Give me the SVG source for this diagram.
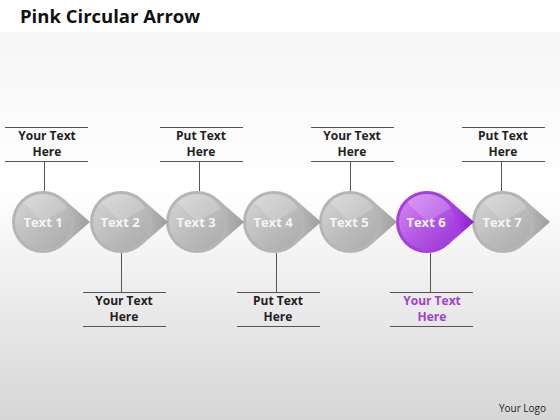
<svg xmlns="http://www.w3.org/2000/svg" width="560" height="420" viewBox="0 0 560 420">
<defs>
<linearGradient id="bg" x1="0" y1="0" x2="0" y2="1">
<stop offset="0" stop-color="#f4f4f4"/><stop offset="0.45" stop-color="#ffffff"/><stop offset="1" stop-color="#d6d6d6"/>
</linearGradient>
<linearGradient id="gc" x1="0" y1="0" x2="1" y2="1">
<stop offset="0" stop-color="#d6d6d6"/><stop offset="0.5" stop-color="#bebebe"/><stop offset="1" stop-color="#a9a9a9"/>
</linearGradient>
<linearGradient id="ga" x1="0" y1="0" x2="1" y2="0">
<stop offset="0" stop-color="#bdbdbd"/><stop offset="1" stop-color="#9d9d9d"/>
</linearGradient>
<linearGradient id="pc" x1="0" y1="0" x2="1" y2="1">
<stop offset="0" stop-color="#d98af5"/><stop offset="0.5" stop-color="#b55be6"/><stop offset="1" stop-color="#9a33d4"/>
</linearGradient>
<linearGradient id="pa" x1="0" y1="0" x2="1" y2="0">
<stop offset="0" stop-color="#b44ee8"/><stop offset="1" stop-color="#8c1fd0"/>
</linearGradient>
<g id="grayNode">
<path d="M20.5,-23.3 L47,0 L20.5,23.3 Z" fill="url(#ga)"/>
<circle r="31" fill="#b5b5b5"/>
<circle r="28" fill="url(#gc)"/>
<path d="M-20,-20 A28,28 0 0 1 24,-14 L0,0 Z" fill="#ffffff" opacity="0.18"/>
</g>
<g id="pinkNode">
<path d="M20.5,-23.3 L47,0 L20.5,23.3 Z" fill="url(#pa)"/>
<circle r="31" fill="#a53fe0"/>
<circle r="28" fill="url(#pc)"/>
<path d="M-20,-20 A28,28 0 0 1 24,-14 L0,0 Z" fill="#ffffff" opacity="0.18"/>
</g>
</defs>
<style>
.t{font-family:"Open Sans","Liberation Sans",sans-serif;font-weight:bold;font-size:12px;text-anchor:middle;fill:#222}
.p{fill:#a040d0}
.n{font-family:"Open Sans","Liberation Sans",sans-serif;font-weight:bold;font-size:13px;text-anchor:middle;fill:#f4f4f4}
.ln{stroke:#555;stroke-width:1;fill:none}
</style>
<rect width="560" height="420" fill="url(#bg)"/>
<rect width="560" height="32" fill="#ffffff"/>
<text x="20" y="23" font-family="Open Sans, Liberation Sans, sans-serif" font-weight="bold" font-size="18.5" fill="#111">Pink Circular Arrow</text>
<g id="connectors">
<path class="ln" d="M5,127.5H88M5,161.5H88M44.5,161V191"/>
<path class="ln" d="M160,127.5H243M160,161.5H243M199.5,161V191"/>
<path class="ln" d="M311,127.5H394M311,161.5H394M350.5,161V191"/>
<path class="ln" d="M462,127.5H545M462,161.5H545M501.5,161V191"/>
<path class="ln" d="M121.5,253V292M83,292.5H166M83,326.5H166"/>
<path class="ln" d="M276.5,253V292M237,292.5H320M237,326.5H320"/>
<path class="ln" d="M430.5,253V292M390,292.5H473M390,326.5H473"/>
</g>
<g id="node7"><use href="#grayNode" x="503" y="222"/><text class="n" x="502" y="227">Text 7</text></g>
<g id="node6"><use href="#pinkNode" x="427" y="222"/><text class="n" x="426" y="227">Text 6</text></g>
<g id="node5"><use href="#grayNode" x="350" y="222"/><text class="n" x="349" y="227">Text 5</text></g>
<g id="node4"><use href="#grayNode" x="274" y="222"/><text class="n" x="273" y="227">Text 4</text></g>
<g id="node3"><use href="#grayNode" x="197" y="222"/><text class="n" x="196" y="227">Text 3</text></g>
<g id="node2"><use href="#grayNode" x="121" y="222"/><text class="n" x="120" y="227">Text 2</text></g>
<g id="node1"><use href="#grayNode" x="43" y="222"/><text class="n" x="43" y="227">Text 1</text></g>
<g id="label1"><text class="t" x="47" y="140">Your Text</text><text class="t" x="47" y="156">Here</text></g>
<g id="label3"><text class="t" x="201" y="140">Put Text</text><text class="t" x="201" y="156">Here</text></g>
<g id="label5"><text class="t" x="352" y="140">Your Text</text><text class="t" x="352" y="156">Here</text></g>
<g id="label7"><text class="t" x="503" y="140">Put Text</text><text class="t" x="503" y="156">Here</text></g>
<g id="label2"><text class="t" x="124" y="305">Your Text</text><text class="t" x="124" y="321">Here</text></g>
<g id="label4"><text class="t" x="278" y="305">Put Text</text><text class="t" x="278" y="321">Here</text></g>
<g id="label6"><text class="t p" x="432" y="305">Your Text</text><text class="t p" x="432" y="321">Here</text></g>
<text x="546" y="412" font-family="Open Sans, Liberation Sans, sans-serif" font-size="10" text-anchor="end" fill="#222">Your Logo</text>
</svg>
